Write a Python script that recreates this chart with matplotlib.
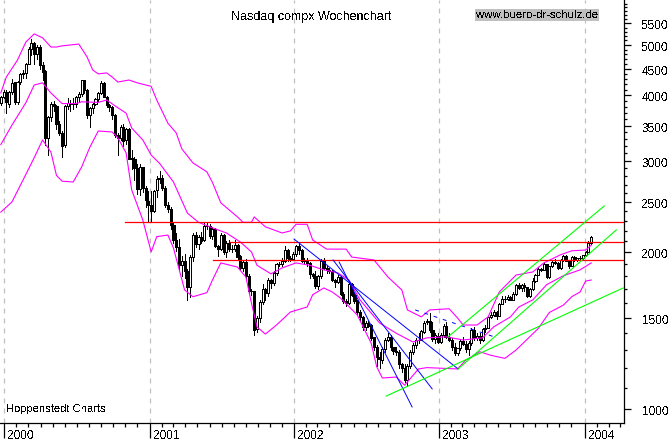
import matplotlib
matplotlib.use('Agg')
import matplotlib.pyplot as plt
import matplotlib.transforms as mtrans
import numpy as np

plt.rcParams['font.family'] = ['Liberation Sans', 'DejaVu Sans']
plt.rcParams['text.antialiased'] = False

# weekly candles, first one is the week ending 24 Dec 1999
opens = [3870, 3975,
         4069, 3850, 4070, 4240, 3890, 4245, 4400, 4415, 4600, 4915, 5050, 4800, 4960, 4575, 4450, 3320, 3645, 3860, 3815, 3530, 3395, 3210, 3815, 3875, 3865, 3845, 3965, 4025, 4275, 4095, 3665, 3790, 3850, 3930, 4045, 4235, 3980, 3835, 3800, 3670, 3360, 3320, 3485, 3280, 3450, 3030, 3025, 2905, 2645, 2915, 2655, 2515,
         2470, 2405, 2630, 2770, 2780, 2660, 2470, 2425, 2260, 2115, 2050, 1890, 1930, 1840, 1720, 1960, 2165, 2075, 2145, 2110, 2250, 2250, 2150, 2215, 2055, 2035, 2160, 2005, 2085, 2030, 2030, 2065, 1965, 1865, 1915, 1805, 1687, 1687, 1425, 1500, 1605, 1705, 1670, 1770, 1745, 1830, 1900, 1905, 1930, 2020, 1955, 1945,
         1987, 2060, 2020, 1930, 1935, 1910, 1820, 1805, 1725, 1800, 1930, 1870, 1850, 1845, 1770, 1755, 1795, 1665, 1615, 1600, 1740, 1660, 1615, 1535, 1505, 1440, 1465, 1450, 1375, 1320, 1260, 1245, 1305, 1360, 1380, 1315, 1295, 1290, 1220, 1200, 1140, 1210, 1290, 1330, 1360, 1360, 1410, 1470, 1480, 1420, 1365, 1385,
         1348, 1387, 1447, 1376, 1360, 1320, 1282, 1310, 1350, 1337, 1305, 1340, 1420, 1370, 1383, 1358, 1425, 1434, 1502, 1520, 1538, 1510, 1595, 1627, 1627, 1644, 1625, 1663, 1733, 1708, 1731, 1715, 1650, 1702, 1765, 1810, 1858, 1855, 1905, 1793, 1880, 1915, 1912, 1865, 1932, 1970, 1930, 1881, 1960, 1937, 1949, 1951,
         1974, 2006, 2086]
highs = [3990, 4090,
         4100, 4080, 4300, 4250, 4260, 4420, 4480, 4620, 4950, 5130, 5060, 5000, 4990, 4630, 4470, 3660, 3890, 3900, 3830, 3570, 3420, 3830, 3960, 3920, 3960, 3990, 4060, 4290, 4290, 4110, 3810, 3870, 3960, 4060, 4270, 4250, 3990, 3860, 3820, 3680, 3390, 3510, 3530, 3470, 3460, 3140, 3050, 2950, 2950, 2920, 2680, 2620,
         2620, 2640, 2800, 2860, 2810, 2680, 2500, 2450, 2290, 2180, 2120, 1970, 1990, 1860, 1980, 2180, 2190, 2160, 2190, 2280, 2290, 2270, 2240, 2230, 2070, 2180, 2170, 2100, 2110, 2070, 2110, 2080, 1980, 1930, 1940, 1820, 1700, 1690, 1510, 1620, 1740, 1710, 1790, 1780, 1840, 1910, 1920, 1950, 2060, 2030, 1970, 2000,
         2070, 2090, 2030, 1950, 1950, 1920, 1830, 1840, 1810, 1940, 1950, 1880, 1870, 1850, 1780, 1810, 1800, 1680, 1630, 1750, 1750, 1670, 1620, 1550, 1510, 1480, 1480, 1460, 1380, 1330, 1290, 1320, 1370, 1400, 1390, 1320, 1320, 1300, 1230, 1220, 1220, 1300, 1340, 1370, 1400, 1420, 1480, 1490, 1530, 1470, 1400, 1400,
         1400, 1460, 1470, 1400, 1370, 1340, 1310, 1360, 1380, 1350, 1350, 1430, 1440, 1400, 1400, 1430, 1450, 1510, 1540, 1550, 1545, 1600, 1650, 1650, 1660, 1650, 1680, 1740, 1750, 1740, 1750, 1720, 1710, 1790, 1815, 1875, 1870, 1920, 1905, 1885, 1925, 1945, 1920, 1940, 1980, 1975, 1935, 1965, 1970, 1955, 1970, 1980,
         2015, 2100, 2155]
lows = [3840, 3960,
        3700, 3800, 4030, 3850, 3860, 4210, 4320, 4320, 4590, 4790, 4590, 4700, 4500, 4280, 3220, 3080, 3580, 3740, 3450, 3360, 3050, 3190, 3770, 3740, 3770, 3800, 3880, 3990, 4040, 3620, 3480, 3700, 3830, 3900, 4020, 3970, 3800, 3730, 3600, 3330, 3080, 3290, 3200, 3230, 3020, 2890, 2760, 2590, 2580, 2610, 2450, 2290,
        2290, 2390, 2560, 2720, 2640, 2440, 2390, 2220, 2090, 2010, 1850, 1800, 1790, 1620, 1640, 1930, 2050, 2030, 2090, 2100, 2220, 2130, 2120, 2050, 1970, 2020, 1990, 1960, 2010, 2000, 2010, 1940, 1860, 1840, 1790, 1670, 1660, 1390, 1410, 1470, 1590, 1620, 1650, 1710, 1730, 1810, 1880, 1880, 1920, 1930, 1930, 1940,
        1970, 1990, 1920, 1910, 1880, 1790, 1790, 1710, 1700, 1790, 1860, 1830, 1830, 1760, 1720, 1750, 1660, 1600, 1580, 1590, 1650, 1600, 1520, 1480, 1420, 1420, 1440, 1360, 1300, 1210, 1200, 1230, 1290, 1350, 1300, 1280, 1270, 1200, 1180, 1130, 1110, 1200, 1280, 1310, 1340, 1360, 1400, 1460, 1410, 1350, 1340, 1340,
        1340, 1380, 1370, 1350, 1300, 1270, 1270, 1300, 1330, 1290, 1270, 1330, 1360, 1360, 1340, 1350, 1410, 1430, 1500, 1510, 1490, 1510, 1590, 1610, 1620, 1620, 1620, 1660, 1700, 1690, 1690, 1640, 1640, 1695, 1755, 1810, 1840, 1850, 1790, 1790, 1875, 1905, 1860, 1860, 1930, 1925, 1870, 1880, 1930, 1930, 1945, 1945,
        1970, 2000, 2080]
closes = [3970, 4069,
          3882, 4064, 4235, 3887, 4244, 4395, 4411, 4590, 4914, 5048, 4798, 4963, 4572, 4446, 3321, 3643, 3860, 3816, 3529, 3390, 3205, 3813, 3874, 3860, 3845, 3966, 4023, 4274, 4095, 3663, 3787, 3849, 3930, 4042, 4234, 3979, 3835, 3803, 3672, 3361, 3316, 3483, 3278, 3451, 3028, 3027, 2904, 2645, 2917, 2653, 2517, 2470,
          2407, 2626, 2770, 2781, 2660, 2470, 2425, 2262, 2117, 2052, 1890, 1928, 1840, 1720, 1961, 2163, 2075, 2146, 2108, 2251, 2252, 2149, 2215, 2057, 2035, 2160, 2004, 2084, 2029, 2029, 2066, 1963, 1867, 1916, 1805, 1687, 1687, 1423, 1498, 1605, 1703, 1671, 1769, 1745, 1828, 1898, 1903, 1930, 2021, 1953, 1945, 1987,
          2059, 2022, 1930, 1937, 1911, 1818, 1805, 1725, 1802, 1929, 1868, 1851, 1845, 1770, 1756, 1796, 1663, 1613, 1600, 1741, 1661, 1615, 1535, 1504, 1440, 1463, 1448, 1374, 1320, 1262, 1247, 1306, 1361, 1380, 1315, 1295, 1291, 1221, 1199, 1139, 1210, 1287, 1331, 1360, 1361, 1411, 1468, 1479, 1422, 1363, 1387, 1348,
          1387, 1447, 1376, 1360, 1320, 1282, 1310, 1350, 1337, 1305, 1340, 1421, 1370, 1383, 1358, 1425, 1434, 1502, 1520, 1538, 1510, 1595, 1627, 1627, 1644, 1625, 1663, 1733, 1708, 1731, 1715, 1650, 1702, 1765, 1810, 1858, 1855, 1905, 1793, 1880, 1915, 1912, 1865, 1932, 1970, 1930, 1881, 1960, 1937, 1949, 1951, 1974,
          2006, 2086, 2140]

upper_weeks = [0, 2, 6, 9, 12, 15, 18, 20, 22, 28, 31, 33, 35, 38, 40, 42, 46, 49, 54, 56, 60, 63, 65, 69, 74, 76, 79, 85, 87, 90, 91, 95, 101, 104, 106, 110, 112, 117, 124, 126, 134, 139, 144, 146, 151, 154, 161, 164, 166, 171, 175, 179, 185, 191, 195, 201, 205, 210, 212]
upper_band = [4045, 4340, 4679, 5066, 5250, 5160, 4955, 4955, 4980, 5020, 4740, 4477, 4400, 4420, 4340, 4245, 4283, 4230, 4165, 3921, 3540, 3390, 3160, 2970, 2855, 2725, 2490, 2340, 2285, 2285, 2340, 2240, 2180, 2200, 2265, 2265, 2113, 2030, 2030, 1960, 1935, 1795, 1695, 1552, 1505, 1552, 1560, 1498, 1452, 1452, 1505, 1680, 1810, 1835, 1910, 1980, 2015, 2022, 2065]
mid_weeks = [0, 4, 9, 12, 15, 18, 22, 27, 29, 35, 38, 42, 45, 47, 51, 54, 57, 62, 67, 71, 76, 81, 86, 90, 92, 97, 101, 106, 111, 116, 121, 125, 129, 136, 142, 148, 153, 160, 166, 173, 177, 183, 186, 191, 196, 202, 208, 212]
mid_band = [3220, 3510, 3875, 4190, 4230, 4045, 3860, 3860, 3890, 3880, 3921, 3790, 3700, 3465, 3287, 3075, 2965, 2730, 2380, 2285, 2230, 2180, 2095, 2005, 1890, 1820, 1868, 1910, 1890, 1852, 1828, 1771, 1622, 1465, 1400, 1347, 1372, 1378, 1359, 1372, 1440, 1505, 1572, 1622, 1735, 1805, 1852, 1910]
lower_weeks = [0, 4, 8, 12, 15, 18, 20, 22, 26, 29, 32, 35, 40, 42, 45, 47, 51, 54, 56, 60, 62, 66, 69, 74, 76, 79, 85, 88, 90, 92, 95, 99, 104, 110, 112, 116, 119, 122, 128, 133, 135, 137, 142, 145, 150, 153, 164, 167, 172, 176, 181, 185, 188, 193, 197, 202, 205, 208, 210, 212]
lower_band = [2390, 2500, 2755, 3040, 3287, 3115, 2810, 2740, 2730, 2915, 3185, 3420, 3405, 3320, 3105, 2636, 2308, 2005, 2145, 2160, 2040, 1695, 1645, 1675, 1771, 1910, 1875, 1795, 1600, 1440, 1395, 1452, 1538, 1572, 1660, 1710, 1680, 1635, 1518, 1340, 1207, 1149, 1154, 1113, 1196, 1203, 1196, 1244, 1290, 1270, 1253, 1300, 1347, 1430, 1535, 1585, 1645, 1680, 1763, 1771]

# hand drawn levels and trend lines: (week, value) pairs
red_levels = [(44.6, 2285), (82.3, 2095), (76.2, 1935)]
blue_lines = [((105.3, 2122), (164.2, 1196)),
              ((119.3, 1935), (154.9, 1095)),
              ((121.5, 1917), (147.7, 1011))]
blue_dashed = ((148.8, 1552), (178.2, 1372))
green_lines = [((138.4, 1061), (223.5, 1710)),
               ((160.6, 1378), (216.7, 2456)),
               ((164.2, 1196), (221.0, 2209))]

price_ticks = [1000, 1500, 2000, 2500, 3000, 3500, 4000, 4500, 5000, 5500]
minor_prices = [p for p in range(1100, 6100, 100) if p not in price_ticks]
year_weeks = [1.14, 53.6, 105.3, 157.4, 209.9]
year_labels = ['2000', '2001', '2002', '2003', '2004']
month_weeks = [5.6, 9.9, 14.3, 18.6, 22.9, 27.3, 31.6, 36.0, 40.3, 44.6, 49.0,
               57.9, 62.0, 66.3, 70.6, 75.0, 79.3, 83.6, 88.0, 92.3, 96.7, 101.0,
               109.6, 113.6, 118.0, 122.3, 126.7, 131.0, 135.3, 139.7, 144.0, 148.3, 152.7,
               161.7, 165.7, 170.0, 174.4, 178.7, 183.0, 187.4, 191.7, 196.1, 200.4, 204.7,
               214.0, 218.3, 222.4]

weeks = np.arange(len(closes))
opens = np.array(opens)
closes = np.array(closes)

fig = plt.figure(figsize=(6.71, 4.41), dpi=100)
ax = fig.add_axes([0, 18 / 441, 623.5 / 671, 423 / 441])
ax.set_yscale('log')
ax.set_xlim(-0.287, 223.6)
ax.set_ylim(942, 6098)

for w in year_weeks:
    ax.axvline(w, color='#c0c0c0', lw=0.9, ls=(0, (4, 4)), zorder=1)

# candles
ax.vlines(weeks, lows, highs, color='black', lw=0.72, zorder=2, antialiased=False)
down = closes < opens
ax.bar(weeks[down], (opens - closes)[down], bottom=closes[down], width=0.75,
       color='black', edgecolor='black', lw=0.72, zorder=3, antialiased=False)
ax.bar(weeks[~down], (closes - opens)[~down], bottom=opens[~down], width=0.75,
       color='white', edgecolor='black', lw=0.72, zorder=3, antialiased=False)

ax.plot(upper_weeks, upper_band, color='#ff00ff', lw=0.8, zorder=4)
ax.plot(mid_weeks, mid_band, color='#ff00ff', lw=0.8, zorder=4)
ax.plot(lower_weeks, lower_band, color='#ff00ff', lw=0.8, zorder=4)

for start, value in red_levels:
    ax.plot([start, 223.6], [value, value], color='#ff0000', lw=0.9, zorder=5)
for a, b in blue_lines:
    ax.plot([a[0], b[0]], [a[1], b[1]], color='#0000ff', lw=0.7, zorder=5)
ax.plot([blue_dashed[0][0], blue_dashed[1][0]], [blue_dashed[0][1], blue_dashed[1][1]],
        color='#0000ff', lw=0.7, ls=(0, (4, 6)), zorder=5)
for a, b in green_lines:
    ax.plot([a[0], b[0]], [a[1], b[1]], color='#00ff00', lw=0.8, zorder=5)

for side in ['top', 'left']:
    ax.spines[side].set_visible(False)
ax.spines['right'].set_linewidth(0.9)
ax.spines['bottom'].set_linewidth(0.9)

ax.yaxis.tick_right()
ax.set_yticks(price_ticks)
ax.set_yticklabels([str(p) for p in price_ticks], fontsize=8.6)
ax.set_yticks(minor_prices, minor=True)
ax.set_yticklabels([], minor=True)
ax.tick_params(axis='y', which='major', length=5, width=0.9, pad=8)
ax.tick_params(axis='y', which='minor', length=2.5, width=0.9)
for lab in ax.get_yticklabels():
    lab.set_transform(lab.get_transform() + mtrans.ScaledTranslation(0, -1.5 / 100, fig.dpi_scale_trans))

ax.set_xticks(year_weeks)
ax.set_xticklabels(year_labels, fontsize=8.6, ha='left')
ax.set_xticks(month_weeks, minor=True)
ax.tick_params(axis='x', which='major', length=11, width=0.9, pad=-6)
ax.tick_params(axis='x', which='minor', length=3, width=0.9)
for lab in ax.get_xticklabels():
    lab.set_transform(lab.get_transform() + mtrans.ScaledTranslation(3 / 100, 0, fig.dpi_scale_trans))

fig.text(311.5 / 671, 1 - 17 / 441, 'Nasdaq compx Wochenchart', fontsize=9, ha='center', va='center')
fig.text(537 / 671, 1 - 15 / 441, 'www.buero-dr-schulz.de', fontsize=8.2, ha='center', va='center',
         bbox=dict(facecolor='#c0c0c0', edgecolor='none', pad=1))
fig.text(6 / 671, 1 - 409 / 441, 'Hoppenstedt Charts', fontsize=8, ha='left', va='center')

fig.savefig('out.png', dpi=100)
